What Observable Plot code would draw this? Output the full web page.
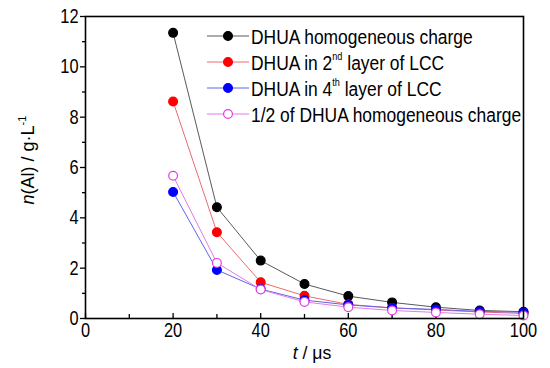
<!DOCTYPE html>
<html>
<head>
<meta charset="utf-8">
<script src="https://cdn.jsdelivr.net/npm/d3@7"></script>
<script src="https://cdn.jsdelivr.net/npm/@observablehq/plot@0.6"></script>
<style>
  html, body { margin: 0; padding: 0; background: white; }
  #chart { width: 550px; height: 368px; }
</style>
</head>
<body>
<div id="chart"></div>
<script>
// ---- data ----
const times = [20, 30, 40, 50, 60, 70, 80, 90, 100];
const seriesNames = [
  "DHUA homogeneous charge",
  "DHUA in 2nd layer of LCC",
  "DHUA in 4th layer of LCC",
  "1/2 of DHUA homogeneous charge"
];
const homogeneous = [11.35, 4.42, 2.30, 1.37, 0.89, 0.64, 0.45, 0.32, 0.27];
const layer2 = [8.62, 3.43, 1.44, 0.90, 0.56, 0.42, 0.34, 0.26, 0.20];
const layer4 = [5.03, 1.93, 1.17, 0.73, 0.54, 0.42, 0.36, 0.28, 0.25];
const halfHomogeneous = [5.67, 2.21, 1.15, 0.66, 0.45, 0.32, 0.24, 0.17, 0.12];
const xMajor = [0, 20, 40, 60, 80, 100];
const xMinor = [10, 30, 50, 70, 90];
const yMajor = [0, 2, 4, 6, 8, 10, 12];
const yMinor = [1, 3, 5, 7, 9, 11];

const lineColors = ["#5a5a5a", "#f06a6a", "#6262ee", "#e57ae5"];
const dotFill = ["#000000", "#ff0000", "#0000ff", "#ffffff"];
const dotStroke = ["#000000", "#ff0000", "#0000ff", "#e040e0"];

const allValues = [homogeneous, layer2, layer4, halfHomogeneous];
const rows = [];
allValues.forEach((vals, s) => vals.forEach((v, i) => rows.push({series: seriesNames[s], s, t: times[i], v})));

const FONT = '"Liberation Sans", Arial, sans-serif';
const NARROW = 0.82;

const marks = [
  Plot.axisX(xMajor, {tickSize: 0, tickPadding: 4, label: null, fontSize: 20}),
  Plot.tickX(xMajor, {x: d => d, insetTop: 297, stroke: "black", strokeWidth: 1.3}),
  Plot.tickX(xMinor, {x: d => d, insetTop: 298, stroke: "black", strokeWidth: 1.3}),
  Plot.axisY(yMajor, {tickSize: 5, tickPadding: 2, label: null, fontSize: 20, strokeWidth: 1.3}),
  Plot.axisY(yMinor, {tickSize: 3, tickFormat: () => "", label: null, strokeWidth: 1.3}),
];
seriesNames.forEach((name, s) => {
  const d = rows.filter(r => r.s === s);
  marks.push(Plot.line(d, {x: "t", y: "v", stroke: lineColors[s], strokeWidth: 1}));
  marks.push(Plot.dot(d, {x: "t", y: "v", r: 4.4, fill: dotFill[s], stroke: dotStroke[s], strokeWidth: 1.2}));
});
marks.push(Plot.frame({stroke: "black", strokeWidth: 1.6}));

const chart = Plot.plot({
  width: 550,
  height: 368,
  marginLeft: 85,
  marginRight: 27,
  marginTop: 16,
  marginBottom: 50,
  style: {fontFamily: FONT, fontSize: "20px", background: "white", color: "black", overflow: "visible"},
  x: {domain: [0, 100]},
  y: {domain: [0, 12]},
  marks
});
document.getElementById("chart").appendChild(chart);

const svg = d3.select(chart);
// condense the tick labels (the reference uses a narrow sans face)
svg.selectAll("g[aria-label$='tick label'] text").each(function () {
  const el = d3.select(this);
  const tr = el.attr("transform") || "";
  el.attr("transform", tr + ` scale(${NARROW},1)`);
});

// ---- axis titles & legend ----
const g = svg.append("g").attr("font-family", FONT).attr("fill", "black");

// y title
const yt = g.append("text")
  .attr("transform", "translate(34,160) rotate(-90)")
  .attr("text-anchor", "middle")
  .attr("font-size", 18);
yt.append("tspan").attr("font-style", "italic").text("n");
yt.append("tspan").text("(Al) / g·L");
yt.append("tspan").attr("font-size", 11).attr("dy", -8).text("-1");

// x title
const xt = g.append("text")
  .attr("transform", "translate(312,359) scale(0.93,1)")
  .attr("text-anchor", "middle")
  .attr("font-size", 19);
xt.append("tspan").attr("font-style", "italic").text("t");
xt.append("tspan").text(" / μs");

// legend
const legendY = [36, 62, 88, 114];
const legendParts = [
  [["DHUA homogeneous charge", false]],
  [["DHUA in 2", false], ["nd", true], [" layer of LCC", false]],
  [["DHUA in 4", false], ["th", true], [" layer of LCC", false]],
  [["1/2 of DHUA homogeneous charge", false]]
];
legendParts.forEach((parts, s) => {
  const y = legendY[s];
  g.append("line").attr("x1", 207).attr("x2", 249).attr("y1", y).attr("y2", y)
    .attr("stroke", lineColors[s]).attr("stroke-width", 1);
  g.append("circle").attr("cx", 228).attr("cy", y).attr("r", 4.4)
    .attr("fill", dotFill[s]).attr("stroke", dotStroke[s]).attr("stroke-width", 1.2);
  const t = g.append("text")
    .attr("transform", `translate(251,${y + 7.5}) scale(0.83,1)`)
    .attr("text-anchor", "start")
    .attr("font-size", 21);
  parts.forEach(([txt, sup]) => {
    if (sup) {
      t.append("tspan").attr("font-size", 11).attr("dy", -10).text(txt);
    } else {
      const ts = t.append("tspan").text(txt);
      if (txt.startsWith(" ")) ts.attr("dy", 10);
    }
  });
});
</script>
</body>
</html>
